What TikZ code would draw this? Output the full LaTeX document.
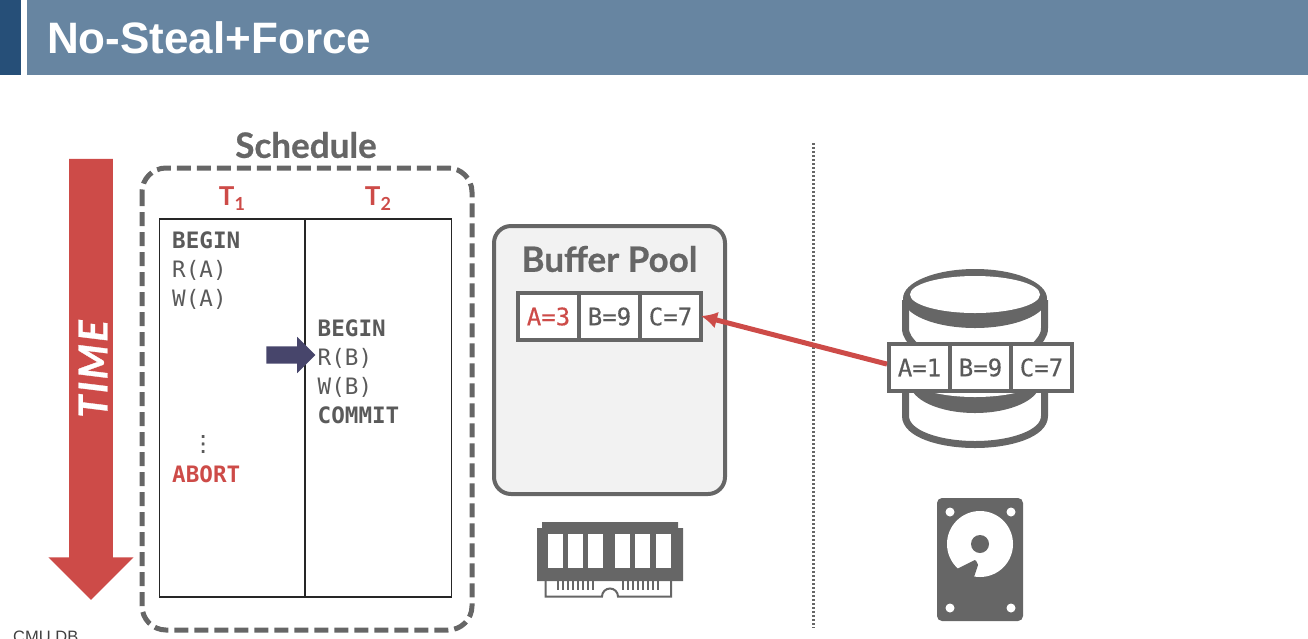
\documentclass[tikz,border=0pt]{standalone}
\usepackage{fontspec}
\usepackage{tikz}
\usetikzlibrary{shapes.arrows, arrows.meta, positioning}

\newfontfamily\titlefont{Liberation Sans}
\newfontfamily\labelfont[BoldFeatures={FakeBold=0.6}]{Lato}
\newfontfamily\timefont{Lato}
\newfontfamily\timelabelfont[LetterSpace=6,BoldItalicFeatures={FakeBold=0.8}]{Lato}
\newfontfamily\opfont{DejaVu Sans Mono}
\newfontfamily\cellfont[FakeBold=0.4]{DejaVu Sans Mono}
\newfontfamily\dotsfont[FakeBold=1]{DejaVu Sans}

\definecolor{slideblue}{HTML}{6785A1}
\definecolor{slidenavy}{HTML}{264F78}
\definecolor{icongrey}{HTML}{666666}
\definecolor{opgrey}{HTML}{5A5A5A}
\definecolor{timered}{HTML}{CD4B48}
\definecolor{cursorblue}{HTML}{47456B}
\definecolor{poolfill}{HTML}{F2F2F2}

\begin{document}
\begin{tikzpicture}[
    x=1pt, y=-1pt,
    header/.style={font=\labelfont\bfseries\fontsize{35}{35}\selectfont, text=icongrey, inner sep=0pt},
    txn/.style={font=\timefont\bfseries\fontsize{26}{26}\selectfont, text=timered, inner sep=0pt},
    op/.style={font=\opfont\fontsize{22.6}{22.6}\selectfont, text=opgrey, inner sep=0pt, anchor=north west, minimum height=28.7pt, text height=17pt, text depth=5pt},
    opbold/.style={op, font=\opfont\bfseries\fontsize{22.6}{22.6}\selectfont},
    cell/.style={rectangle, draw=icongrey, line width=4pt, fill=white, minimum width=61pt, minimum height=47pt, inner sep=0pt, text=opgrey, font=\cellfont\fontsize{24}{24}\selectfont},
    arrow/.style={-{Latex[length=16pt,width=17pt]}, line width=5pt, timered, shorten >=-2pt},
    bigarrow/.style={single arrow, inner xsep=0pt, outer sep=0pt, single arrow head indent=0pt}
]
    \useasboundingbox (0,0) rectangle (1308,638);

    % Title bar
    \fill[slidenavy] (0,0) rectangle (21,75);
    \fill[slideblue] (27,0) rectangle (1308,75);
    \node[anchor=west, inner sep=0pt, text=white, font=\titlefont\bfseries\fontsize{44}{44}\selectfont] (title) at (47,38) {No-Steal+Force};
    \node[anchor=north west, inner sep=0pt, text=black!75, font=\titlefont\fontsize{16.5}{16.5}\selectfont] (logo) at (13,631) {CMU DB};

    % Time
    \node[bigarrow, rotate=-90, fill=timered, inner ysep=21.75pt, minimum height=441pt, minimum width=85pt, single arrow head extend=20.75pt] (time) at (91,368.5) {};
    \node[rotate=90, text=white, inner sep=0pt, font=\timelabelfont\bfseries\itshape\fontsize{40}{40}\selectfont] (timelabel) at (93,369) {TIME};

    % Schedule
    \node[header] (schedule) at (306,145) {Schedule};
    \draw[icongrey, line width=5pt, rounded corners=24pt, dash pattern=on 14pt off 6pt] (142,168) rectangle (472,630);
    \node[txn] (t1) at (232,199) {T\raisebox{-5pt}{\fontsize{18}{18}\selectfont 1}};
    \node[txn] (t2) at (378,199) {T\raisebox{-5pt}{\fontsize{18}{18}\selectfont 2}};
    \draw[black!85, line width=1.5pt] (159.5,219) rectangle (451.5,597);
    \draw[black!85, line width=1.5pt] (305,219) -- (305,597);

    % T1 operations
    \node[opbold] (begina) at (172,228) {BEGIN};
    \node[op] (reada) at (begina.south west) {R(A)};
    \node[op] (writea) at (reada.south west) {W(A)};
    \node[inner sep=0pt, text=opgrey, font=\dotsfont\fontsize{22}{22}\selectfont] (dots) at (203,444) {⋮};
    \node[opbold, text=timered] (abort) at (172,461.5) {ABORT};

    % T2 operations
    \node[opbold] (beginb) at (317.5,315.5) {BEGIN};
    \node[op] (readb) at (beginb.south west) {R(B)};
    \node[op] (writeb) at (readb.south west) {W(B)};
    \node[opbold] (commit) at (writeb.south west) {COMMIT};

    \node[bigarrow, fill=cursorblue, inner ysep=8.5pt, minimum height=49pt, minimum width=36pt, single arrow head extend=9.5pt] (cursor) at (286.5,355) {};

    % Buffer pool
    \node[draw=icongrey, line width=4pt, fill=poolfill, rounded corners=17pt, minimum width=231pt, minimum height=268pt, inner sep=0pt] (pool) at (609.5,360) {};
    \node[header] (pooltitle) at (609.5,259) {Buffer Pool};
    \node[cell, text=timered] (poola) at (548.5,316.5) {A=3};
    \node[cell, right=-4pt of poola] (poolb) {B=9};
    \node[cell, right=-4pt of poolb] (poolc) {C=7};

    % Memory module
    \fill[icongrey] (542,522) -- (678,522) -- (678,528) -- (683,528) -- (683,581) -- (537,581) -- (537,528) -- (542,528) -- cycle;
    \foreach \chipx in {548,568,588,615,635,656}
        \fill[white] (\chipx,534) rectangle ++(15,34);
    \draw[icongrey, line width=2pt] (545.5,581) -- (545.5,596.5) -- (602,596.5) arc[start angle=180, end angle=360, radius=8] -- (671,596.5) -- (671,581);
    \foreach \pinx in {558,563,568,573,578,583,588,593,623,628,633,638,643,648,653,658}
        \draw[icongrey, line width=2pt] (\pinx,581) -- (\pinx,590);

    % Divider
    \draw[icongrey, line width=2.4pt, dash pattern=on 2pt off 2pt] (813.5,143) -- (813.5,628);

    % Disk
    \draw[icongrey, line width=7pt] (905.5,300) -- (905.5,328) .. controls (905.5,336) and (910,340) .. (916,347);
    \draw[icongrey, line width=7pt] (1044.5,300) -- (1044.5,328) .. controls (1044.5,336) and (1040,340) .. (1034,347);
    \draw[icongrey, line width=7pt] (905.5,390) -- (905.5,416) .. controls (905.5,434) and (940,444.5) .. (975,444.5) .. controls (1010,444.5) and (1044.5,434) .. (1044.5,416) -- (1044.5,390);
    \fill[icongrey] (975,298.5) ellipse[x radius=72, y radius=29.5];
    \fill[white] (975,294.5) ellipse[x radius=65, y radius=18.5];
    \fill[icongrey] (975,383) ellipse[x radius=65, y radius=30];
    \fill[white] (975,378) ellipse[x radius=65, y radius=19];
    \node[cell] (diska) at (919.5,367.5) {A=1};
    \node[cell, right=-4pt of diska] (diskb) {B=9};
    \node[cell, right=-4pt of diskb] (diskc) {C=7};

    % Hard drive
    \fill[icongrey, rounded corners=5pt] (937,498) rectangle (1023,621);
    \foreach \holex/\holey in {950/512, 1011/512, 950/608, 1011/608}
        \fill[white] (\holex,\holey) circle[radius=4.5];
    \fill[white] (980,544) circle[radius=33];
    \fill[icongrey] (980,544) circle[radius=9];
    \fill[icongrey, draw=icongrey, line width=2pt, line join=round] (958,569.5) -- (975,561) -- (977,565) -- (973,577) -- (966,590) -- (950,585) -- cycle;

    % Arrows
    \draw[arrow] (diska.174) -- (poolc.east);
\end{tikzpicture}
\end{document}
